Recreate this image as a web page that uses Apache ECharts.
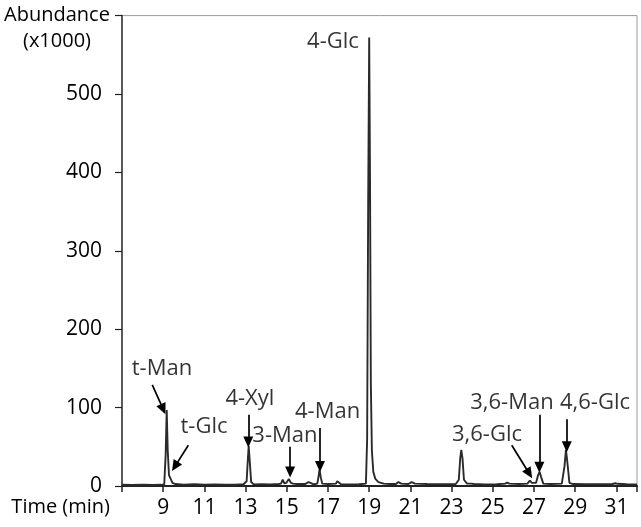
<!DOCTYPE html>
<html>
<head>
<meta charset="utf-8">
<script src="https://cdn.jsdelivr.net/npm/echarts@6/dist/echarts.min.js"></script>
<style>html,body{margin:0;padding:0;background:#fff}#c{width:641px;height:527px}</style>
</head>
<body>
<div id="c"></div>
<script>
// Chromatogram trace: [time (min), abundance (x1000)]
const traceTime = [7.0,7.5,8.0,8.5,8.9,9.05,9.12,9.17,9.22,9.28,9.33,9.38,9.45,9.6,10.0,10.5,11.0,11.5,12.0,12.5,12.9,13.05,13.1,13.15,13.2,13.27,13.4,13.8,14.2,14.6,14.72,14.8,14.88,14.98,15.1,15.2,15.3,15.5,15.9,16.05,16.15,16.3,16.48,16.54,16.59,16.65,16.72,17.0,17.38,17.45,17.52,17.65,18.0,18.5,18.84,18.9,18.95,19.0,19.04,19.08,19.13,19.2,19.3,19.45,19.7,20.0,20.3,20.42,20.48,20.56,20.9,21.06,21.13,21.22,21.8,22.5,23.2,23.35,23.42,23.47,23.53,23.6,23.75,23.93,24.0,24.1,24.6,25.2,25.6,25.7,25.8,26.3,26.68,26.8,26.9,27.1,27.2,27.27,27.34,27.45,27.8,28.35,28.48,28.55,28.62,28.72,28.9,29.5,30.2,30.8,30.95,31.05,31.5,32.0];
const traceValue = [1.5,1.2,1.6,1.3,1.5,2,40,97,45,14,12,8,4,2.5,1.8,2.2,1.6,2,1.8,1.6,2.2,6,30,51,32,5,2,2.4,2,2.5,3,8,3.5,4,9,4,3,2.5,2.5,5,4,2.2,3,12,21,11,3,2.5,3,6,4,2,2,2.2,3,60,360,572,390,130,45,18,9,5,3,2.5,2.5,5,7,3,2.5,5,6,3,2.5,2.2,2.5,8,36,46,35,8,3,3,4,2.5,2,2.2,3,4.5,3,2.5,3,7,4,4,14,18,12,3,2.5,3,25,46,30,4,2.5,2.2,2.3,2.5,3.5,2.8,2.2,2];

// Peak annotations (label text and position in data units)
const labelNames = ['4-Glc','t-Man','t-Glc','4-Xyl','3-Man','4-Man','3,6-Glc','3,6-Man','4,6-Glc'];
const labelX =     [17.24, 8.94, 10.98, 13.21, 14.91, 16.98, 24.72, 25.93, 29.96];
const labelY =     [567,   149,  75,    111,   64,    95,    66,    106.5, 106.5];

// Arrows: start [x,y] -> end [x,y] in data units
const arrowStart = [[8.47,129],[10.22,52],[13.13,91],[15.16,50],[16.61,74],[25.92,52],[27.26,91],[28.59,85]];
const arrowEnd =   [[9.0,98],[9.57,25],[13.13,56],[15.16,18],[16.61,25],[26.77,16],[27.26,24],[28.59,50]];

const xTicks = [9,11,13,15,17,19,21,23,25,27,29,31];
const yTicks = [0,100,200,300,400,500];

const FONT = '"Open Sans", "Noto Sans", sans-serif';

const chart = echarts.init(document.getElementById('c'), null, {renderer: 'canvas'});
chart.setOption({
  animation: false,
  grid: {left: 122, right: 4, top: 15.6, bottom: 41, show: true, borderColor: '#9a9a9a', borderWidth: 1},
  xAxis: {
    type: 'value', min: 7, max: 32, interval: 2,
    name: 'Time (min)', nameLocation: 'start', nameGap: 12,
    nameTextStyle: {fontFamily: FONT, fontSize: 20, color: '#000', align: 'right', verticalAlign: 'top', padding: [11, 0, 0, 0]},
    axisLine: {onZero: false, lineStyle: {color: '#222', width: 2}},
    axisTick: {show: true, inside: false, length: 6, lineStyle: {color: '#222', width: 1.5}},
    splitLine: {show: false},
    axisLabel: {margin: 12, fontFamily: FONT, fontSize: 21, color: '#000',
      formatter: v => xTicks.indexOf(v) >= 0 ? String(v) : ''}
  },
  yAxis: {
    type: 'value', min: 0, max: 600, interval: 100,
    name: 'Abundance\n(x1000)', nameLocation: 'end', nameGap: 13,
    nameTextStyle: {fontFamily: FONT, fontSize: 20, color: '#000', align: 'center', verticalAlign: 'top', lineHeight: 26, padding: [0, 130, 0, 0]},
    axisLine: {show: true, lineStyle: {color: '#333', width: 1.5}},
    axisTick: {show: true, inside: false, length: 7, lineStyle: {color: '#222', width: 1.2}},
    splitLine: {show: false},
    axisLabel: {margin: 20, fontFamily: FONT, fontSize: 21, color: '#000',
      formatter: v => yTicks.indexOf(v) >= 0 ? String(v) : ''}
  },
  series: [
    {
      type: 'line',
      data: traceTime.map((t, i) => [t, traceValue[i]]),
      showSymbol: false, symbol: 'none', smooth: false,
      lineStyle: {color: '#2a2a2a', width: 1.9},
      silent: true,
      markLine: {
        silent: true, animation: false,
        symbol: ['none', 'triangle'], symbolSize: [10, 11],
        lineStyle: {color: '#000', width: 1.7, type: 'solid'},
        label: {show: false},
        data: arrowStart.map((s, i) => [{coord: s}, {coord: arrowEnd[i]}])
      }
    },
    {
      type: 'scatter',
      symbolSize: 0,
      silent: true,
      data: labelNames.map((n, i) => ({name: n, value: [labelX[i], labelY[i]]})),
      label: {show: true, position: 'inside', formatter: p => p.name,
        fontFamily: FONT, fontSize: 22, color: '#000'}
    }
  ]
});
</script>
</body>
</html>
